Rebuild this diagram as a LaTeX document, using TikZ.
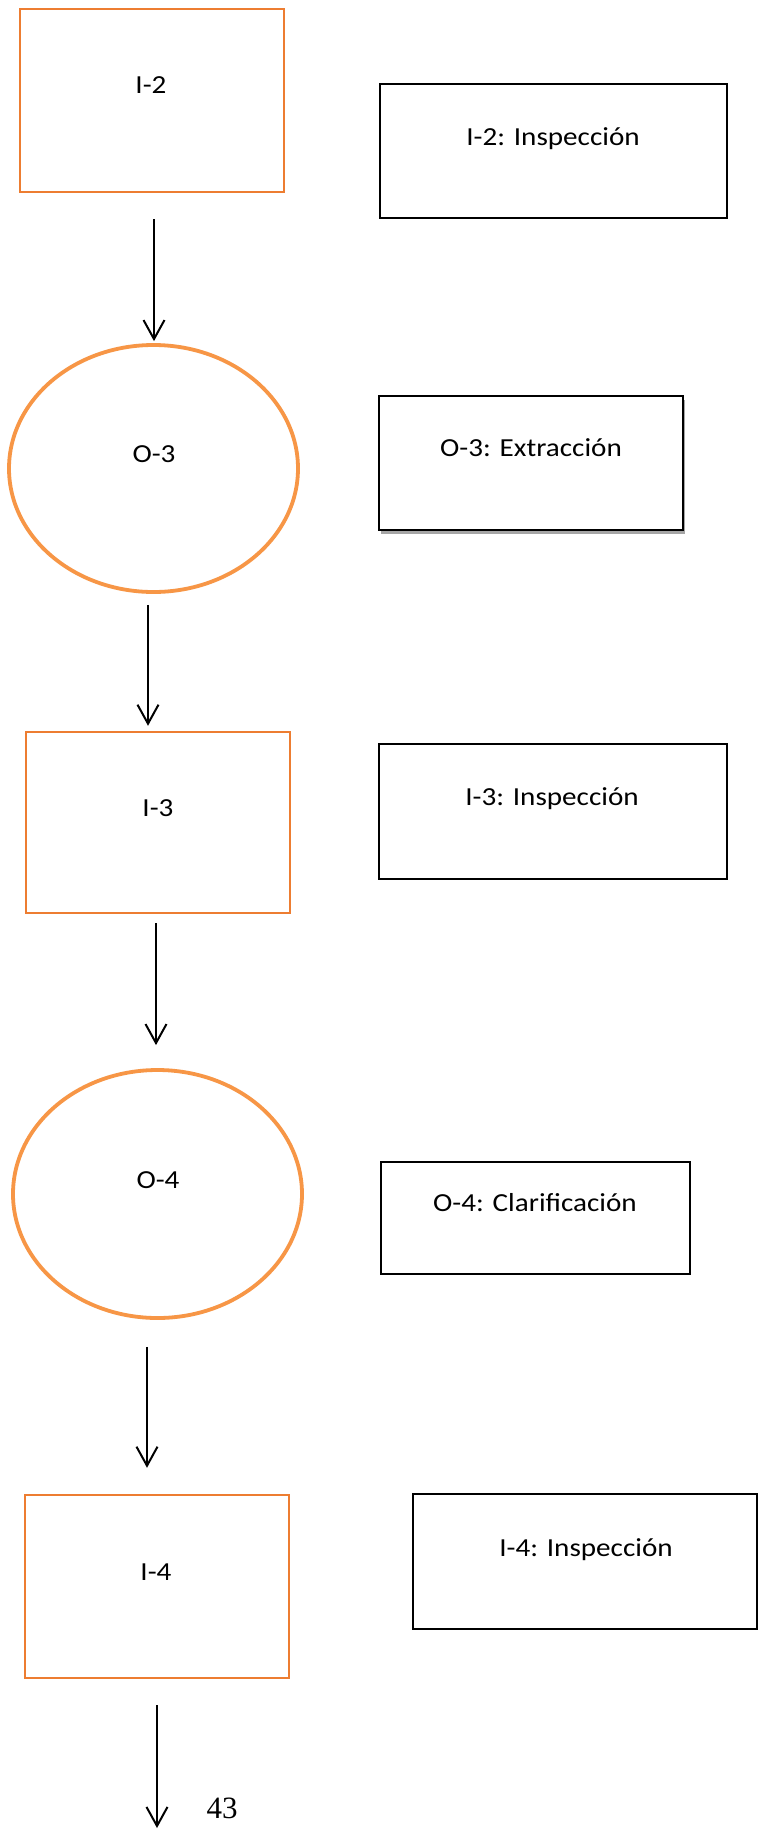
\documentclass[tikz,border=0pt]{standalone}
\usepackage{fontspec}
\setmainfont{Carlito}[FakeStretch=1.12]
\newfontfamily\pagenumfont{Liberation Serif}
\usetikzlibrary{arrows.meta,shapes.geometric,calc,shadows}
\definecolor{boxorange}{HTML}{ED7D31}
\definecolor{ovalorange}{HTML}{F79646}
\begin{document}
\begin{tikzpicture}[x=1pt,y=-1pt,
  inspbox/.style={draw=boxorange,line width=2.5pt,rectangle,inner sep=0pt},
  opoval/.style={draw=ovalorange,line width=3.8pt,ellipse,inner sep=0pt},
  descbox/.style={draw=black,fill=white,line width=1.3pt,rectangle,inner sep=0pt},
  lbl/.style={anchor=base,inner sep=0pt,font=\fontsize{26}{30}\selectfont},
  flow/.style={draw=black,line width=2pt,-{Straight Barb[length=19pt,width=21pt,line width=2pt]}}]
\useasboundingbox (0,0) rectangle (759,1839);
\fill[white] (0,0) rectangle (759,1839);

% left column: inspections and operations
\node[inspbox,minimum width=264pt,minimum height=183pt] (i2) at (152,100.5) {};
\node[opoval,minimum width=289pt,minimum height=247pt] (o3) at (153.5,468.5) {};
\node[inspbox,minimum width=264pt,minimum height=181pt] (i3) at (158,822.5) {};
\node[opoval,minimum width=289pt,minimum height=248pt] (o4) at (157.5,1194) {};
\node[inspbox,minimum width=264pt,minimum height=183pt] (i4) at (157,1586.5) {};

\node[lbl] (ti2) at (151,93.5) {I-2};
\node[lbl] (to3) at (154,462.5) {O-3};
\node[lbl] (ti3) at (158,816.5) {I-3};
\node[lbl] (to4) at (158,1188.5) {O-4};
\node[lbl] (ti4) at (156,1580.5) {I-4};

% right column: descriptions
\node[descbox,minimum width=347pt,minimum height=134pt] (d2) at (553.5,151) {};
\node[descbox,line width=2pt,minimum width=304pt,minimum height=134pt,
      drop shadow={shadow xshift=2pt,shadow yshift=-4pt,fill=black,opacity=0.35}] (d3) at (531,463) {};
\node[descbox,minimum width=348pt,minimum height=135pt] (d4) at (553,811.5) {};
\node[descbox,minimum width=309pt,minimum height=112pt] (d5) at (535.5,1218) {};
\node[descbox,minimum width=344pt,minimum height=135pt] (d6) at (585,1561.5) {};

\node[lbl] (td2) at (553,145.5) {I-2: Inspección};
\node[lbl] (td3) at (531,456.5) {O-3: Extracción};
\node[lbl] (td4) at (552,805.5) {I-3: Inspección};
\node[lbl] (td5) at (535,1211.5) {O-4: Clarificación};
\node[lbl] (td6) at (586,1556.5) {I-4: Inspección};

% page number
\node[anchor=base,inner sep=0pt,font=\pagenumfont\fontsize{31}{34}\selectfont] (pg) at (222,1818) {43};

% flow arrows
\coordinate (tail) at (157,1828);
\draw[flow] ($(i2.south)+(2,26)$) -- ($(o3.north)+(0.5,-2)$);
\draw[flow] ($(o3.south)+(-5.5,11)$) -- ($(i3.north)+(-10,-5)$);
\draw[flow] ($(i3.south)+(-2,9)$) -- ($(o4.north)+(-1.5,-23)$);
\draw[flow] ($(o4.south)+(-10.5,27)$) -- ($(i4.north)+(-10,-26)$);
\draw[flow] ($(i4.south)+(0,26)$) -- (tail);
\end{tikzpicture}
\end{document}
